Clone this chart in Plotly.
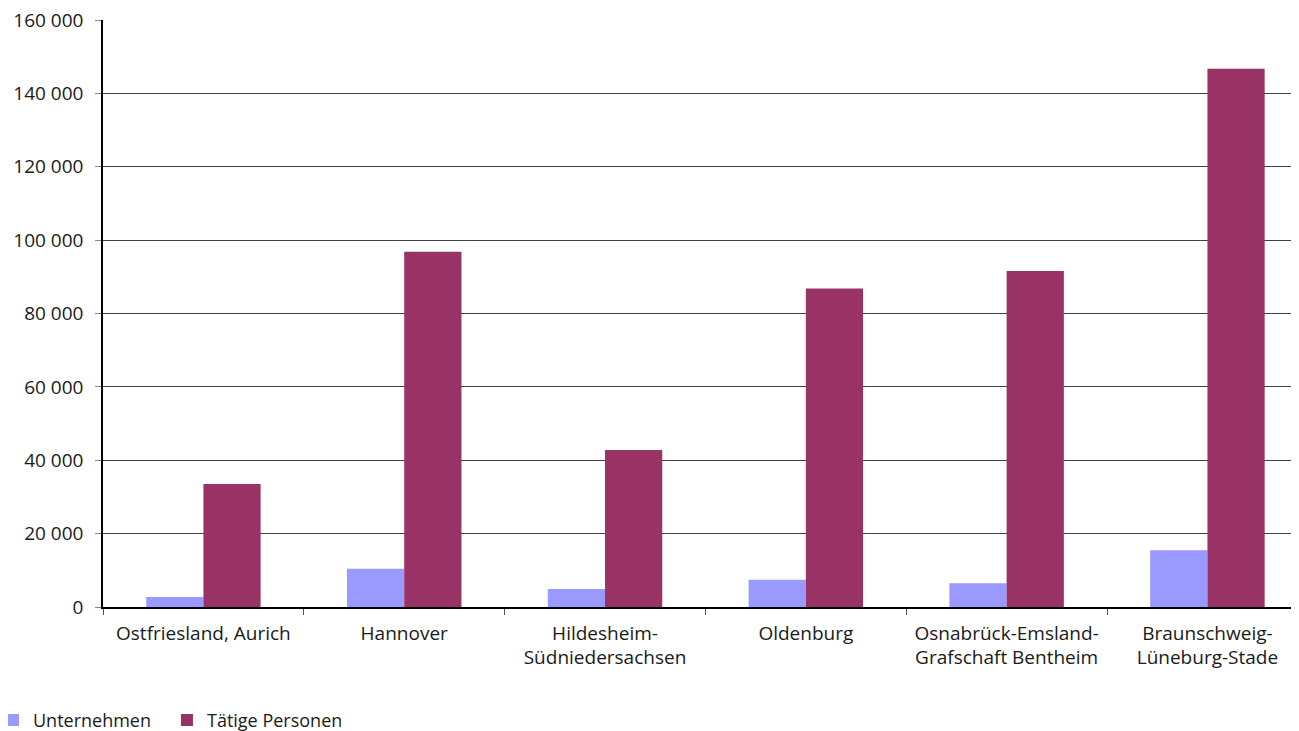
import plotly.graph_objects as go

categories = ["Ostfriesland, Aurich", "Hannover", "Hildesheim-<br>Südniedersachsen",
              "Oldenburg", "Osnabrück-Emsland-<br>Grafschaft Bentheim", "Braunschweig-<br>Lüneburg-Stade"]
unternehmen = [2700, 10400, 4900, 7400, 6500, 15500]
taetige = [33500, 96800, 42800, 86800, 91600, 146700]
y_ticks = [0, 20000, 40000, 60000, 80000, 100000, 120000, 140000, 160000]

fig = go.Figure()
fig.add_bar(x=categories, y=unternehmen, name="Unternehmen", marker_color="#9999FF",
            marker_line_width=0)
fig.add_bar(x=categories, y=taetige, name="Tätige Personen", marker_color="#993366",
            marker_line_width=0)

# page body has an 8px margin, so the figure is sized/offset to compensate
fig.update_layout(
    width=1291, height=723,
    margin=dict(l=95, r=0, t=12, b=124, autoexpand=False),
    plot_bgcolor="white", paper_bgcolor="white",
    barmode="group", bargap=0.43, bargroupgap=0,
    separators=", ",
    font=dict(family="Open Sans, Noto Sans, sans-serif", size=18, color="#1a1a1a"),
    legend=dict(orientation="h", x=-0.092, y=-0.1616, xanchor="left", yanchor="top",
                font=dict(size=18), itemwidth=30, tracegroupgap=0,
                entrywidthmode="pixels", entrywidth=129),
    showlegend=True,
)
fig.update_xaxes(range=[-0.5, 5.456], showline=True, linecolor="black", linewidth=1.5,
                 ticks="outside", tickson="boundaries", ticklen=6, tickcolor="#555",
                 showgrid=False, tickfont=dict(size=19), automargin=False,
                 ticklabelstandoff=8)
fig.update_yaxes(range=[0, 160000], tickvals=y_ticks, tickformat=",d",
                 showline=True, linecolor="black", linewidth=1.5,
                 ticks="outside", ticklen=6, tickcolor="#888",
                 showgrid=True, gridcolor="#404040", gridwidth=1,
                 zeroline=False, tickfont=dict(size=19), automargin=False,
                 ticklabelstandoff=8, ticklabeloverflow="allow")
fig.write_html("out.html")
